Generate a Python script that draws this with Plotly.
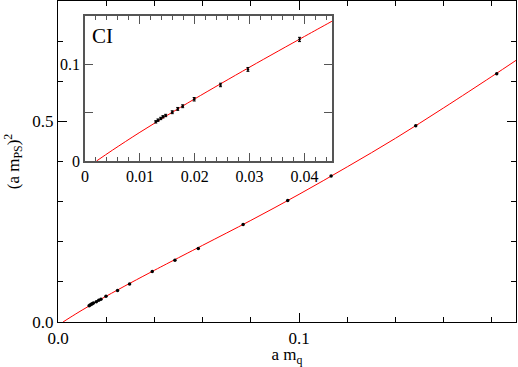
import plotly.graph_objects as go

# data points: a m_q, (a m_PS)^2, error
mq = [0.0129, 0.0133, 0.0138, 0.0142, 0.0147, 0.0159, 0.0169, 0.0178, 0.0199,
      0.0247, 0.0297, 0.0391, 0.0485, 0.0582, 0.0768, 0.0953, 0.1133, 0.1484, 0.1820]
mps2 = [0.0405, 0.0423, 0.0440, 0.0457, 0.0471, 0.0505, 0.0539, 0.0567, 0.0639,
        0.0787, 0.0948, 0.1258, 0.1542, 0.1833, 0.2430, 0.3027, 0.3640, 0.4893, 0.6187]
err = [0.0012, 0.0012, 0.0012, 0.0012, 0.0012, 0.0015, 0.0015, 0.0015, 0.0018,
       0.0018, 0.0020, 0.0022, 0.0022, 0.0022, 0.0022, 0.0022, 0.0022, 0.0022, 0.0022]

# fit curve
fit_x = [0.0021, 0.005, 0.01, 0.015, 0.02, 0.03, 0.04, 0.045, 0.06, 0.08,
         0.10, 0.12, 0.14, 0.16, 0.18, 0.19]
fit_y = [0.0, 0.0112, 0.0297, 0.0473, 0.0643, 0.0971, 0.1289, 0.1446, 0.1911, 0.2532,
         0.3182, 0.3867, 0.4578, 0.5337, 0.6120, 0.6520]

main_xticks = [0.0, 0.1]
main_xtext = ["0.0", "0.1"]
main_yticks = [0.0, 0.5]
main_ytext = ["0.0", "0.5"]
inset_xticks = [0.0, 0.01, 0.02, 0.03, 0.04]
inset_xtext = ["0", "0.01", "0.02", "0.03", "0.04"]
inset_yticks = [0.0, 0.1]
inset_ytext = ["0", "0.1"]

SERIF = "Liberation Serif, Times New Roman, DejaVu Serif, serif"

fig = go.Figure()
fig.add_trace(go.Scatter(x=fit_x, y=fit_y, mode="lines", line=dict(color="red", width=1, shape="spline"),
                         xaxis="x", yaxis="y", hoverinfo="skip"))
fig.add_trace(go.Scatter(x=mq, y=mps2, mode="markers",
                         marker=dict(color="black", size=3.5),
                         error_y=dict(type="data", array=err, color="black", thickness=1, width=0),
                         xaxis="x", yaxis="y"))
inset_mq = [v for v in mq if v <= 0.045]
n_in = len(inset_mq)
fig.add_trace(go.Scatter(x=fit_x, y=fit_y, mode="lines", line=dict(color="red", width=1, shape="spline"),
                         xaxis="x2", yaxis="y2", hoverinfo="skip"))
fig.add_trace(go.Scatter(x=inset_mq, y=mps2[:n_in], mode="markers",
                         marker=dict(color="black", size=2.5),
                         error_y=dict(type="data", array=err[:n_in], color="black", thickness=1, width=1.5),
                         xaxis="x2", yaxis="y2"))

axis_common = dict(showgrid=False, zeroline=False, showline=True, mirror="ticks",
                   ticks="inside", tickcolor="black", linecolor="black", linewidth=1.3,
                   automargin=False,
                   tickfont=dict(family=SERIF, size=17, color="black"))

fig.update_layout(
    width=518, height=367,
    margin=dict(l=58, r=2, t=1, b=45),
    paper_bgcolor="white", plot_bgcolor="white",
    showlegend=False,
    font=dict(family=SERIF, color="black"),
    xaxis=dict(axis_common, range=[0, 0.19], tickvals=main_xticks, ticktext=main_xtext,
               ticklen=9, tickwidth=1,
               minor=dict(dtick=0.02, tick0=0, ticks="inside", ticklen=5, tickcolor="black"),
               title=dict(text="a m<sub>q</sub>", font=dict(family=SERIF, size=17, color="black"), standoff=0),
               domain=[0, 1]),
    yaxis=dict(axis_common, range=[0, 0.8], tickvals=main_yticks, ticktext=main_ytext,
               ticklen=9, tickwidth=1,
               minor=dict(dtick=0.1, tick0=0, ticks="inside", ticklen=5, tickcolor="black"),
               title=dict(text="(a m<sub>PS</sub>)<sup>2</sup>", font=dict(family=SERIF, size=17, color="black"), standoff=8),
               domain=[0, 1]),
    xaxis2=dict(axis_common, range=[0, 0.045], tickvals=inset_xticks, ticktext=inset_xtext,
                ticklen=8, tickwidth=1, linecolor="#555555", linewidth=1.5, tickcolor="#555555",
                tickfont=dict(family=SERIF, size=16, color="black"),
                minor=dict(dtick=0.002, tick0=0, ticks="inside", ticklen=4, tickcolor="#555555"),
                domain=[0.059, 0.598], anchor="y2"),
    yaxis2=dict(axis_common, range=[0, 0.15], tickvals=inset_yticks, ticktext=inset_ytext,
                ticklen=8, tickwidth=1, linecolor="#555555", linewidth=1.5, tickcolor="#555555",
                tickfont=dict(family=SERIF, size=16, color="black"),
                minor=dict(dtick=0.05, tick0=0, ticks="inside", ticklen=8, tickcolor="#555555"),
                domain=[0.5016, 0.953], anchor="x2"),
    annotations=[dict(text="CI", xref="x2 domain", yref="y2 domain", x=0.02, y=0.96,
                      xanchor="left", yanchor="top", showarrow=False,
                      font=dict(family=SERIF, size=21, color="black"))],
)

fig.write_html("out.html", config={"displayModeBar": False},
               post_script="document.body.style.margin='0';document.body.style.overflow='hidden';")
